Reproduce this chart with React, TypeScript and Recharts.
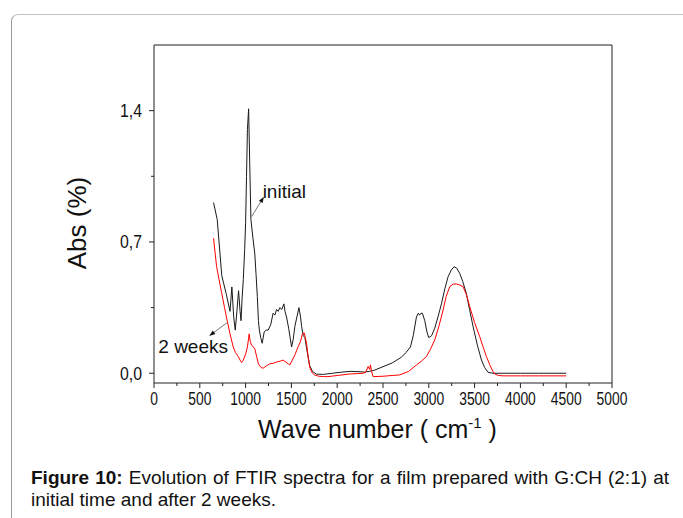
import React from 'react';
import { LineChart, Line, XAxis, YAxis, ReferenceLine, ReferenceDot } from 'recharts';

// ---- data ----
const waveInitial = [650, 690, 740, 790, 830, 850, 870, 887, 905, 923, 940, 950, 962, 975, 990, 1000, 1010, 1020, 1033, 1045, 1058, 1080, 1100, 1115, 1128, 1140, 1150, 1165, 1181, 1203, 1225, 1247, 1275, 1300, 1320, 1338, 1356, 1374, 1395, 1418, 1430, 1447, 1470, 1502, 1520, 1538, 1560, 1582, 1600, 1611, 1630, 1647, 1670, 1700, 1730, 1774, 1850, 1950, 2050, 2150, 2250, 2300, 2350, 2400, 2500, 2600, 2700, 2750, 2800, 2830, 2865, 2885, 2901, 2915, 2930, 2956, 2980, 2999, 3030, 3065, 3100, 3138, 3175, 3211, 3245, 3276, 3305, 3337, 3370, 3410, 3445, 3483, 3530, 3575, 3610, 3647, 3700, 3800, 4000, 4200, 4400, 4500];
const absInitial = [0.91, 0.82, 0.52, 0.42, 0.33, 0.46, 0.3, 0.23, 0.33, 0.44, 0.33, 0.28, 0.4, 0.5, 0.66, 0.8, 1.05, 1.3, 1.41, 1.12, 0.82, 0.72, 0.64, 0.52, 0.41, 0.28, 0.23, 0.19, 0.16, 0.22, 0.23, 0.23, 0.26, 0.32, 0.31, 0.34, 0.33, 0.35, 0.34, 0.37, 0.33, 0.3, 0.24, 0.14, 0.18, 0.25, 0.3, 0.35, 0.3, 0.25, 0.2, 0.19, 0.12, 0.04, 0.01, -0.005, -0.006, 0.0, 0.006, 0.01, 0.008, 0.006, 0.01, 0.015, 0.035, 0.055, 0.085, 0.11, 0.14, 0.2, 0.3, 0.32, 0.31, 0.32, 0.32, 0.28, 0.22, 0.19, 0.2, 0.24, 0.3, 0.37, 0.45, 0.515, 0.55, 0.568, 0.56, 0.533, 0.49, 0.426, 0.34, 0.25, 0.15, 0.07, 0.03, 0.005, 0.0, 0.0, 0.0, 0.0, 0.0, 0.0];

const waveWeeks = [650, 683, 710, 738, 770, 799, 830, 865, 890, 919, 940, 956, 975, 1003, 1020, 1039, 1050, 1065, 1085, 1101, 1120, 1140, 1149, 1170, 1192, 1230, 1260, 1301, 1340, 1380, 1410, 1440, 1465, 1483, 1510, 1540, 1574, 1600, 1620, 1640, 1652, 1665, 1685, 1701, 1730, 1756, 1800, 1850, 1900, 2000, 2137, 2220, 2283, 2310, 2338, 2355, 2363, 2375, 2392, 2500, 2600, 2683, 2780, 2865, 2920, 2974, 3020, 3065, 3110, 3156, 3190, 3229, 3265, 3301, 3340, 3374, 3410, 3447, 3500, 3556, 3600, 3629, 3670, 3700, 3720, 3760, 3811, 4000, 4200, 4500];
const absWeeks = [0.72, 0.57, 0.5, 0.43, 0.35, 0.28, 0.21, 0.14, 0.11, 0.09, 0.07, 0.057, 0.07, 0.107, 0.14, 0.21, 0.17, 0.15, 0.14, 0.13, 0.09, 0.05, 0.044, 0.03, 0.027, 0.04, 0.05, 0.053, 0.06, 0.065, 0.07, 0.06, 0.05, 0.044, 0.07, 0.1, 0.142, 0.17, 0.21, 0.215, 0.19, 0.16, 0.08, 0.03, 0.0, -0.01, -0.016, -0.018, -0.018, -0.012, -0.004, -0.002, 0.0, 0.005, 0.036, 0.02, 0.045, 0.01, -0.018, -0.016, -0.012, -0.009, 0.01, 0.044, 0.065, 0.089, 0.13, 0.178, 0.25, 0.337, 0.41, 0.462, 0.475, 0.476, 0.47, 0.462, 0.42, 0.355, 0.27, 0.195, 0.13, 0.089, 0.04, 0.01, -0.004, -0.012, -0.014, -0.014, -0.014, -0.014];

const xTicks = [0, 250, 500, 750, 1000, 1250, 1500, 1750, 2000, 2250, 2500, 2750, 3000, 3250, 3500, 3750, 4000, 4250, 4500, 4750, 5000];
const xLabelTicks = [0, 500, 1000, 1500, 2000, 2500, 3000, 3500, 4000, 4500, 5000];
const yTicks = [0, 0.35, 0.7, 1.05, 1.4];
const yLabelTicks = [0, 0.7, 1.4];

const seriesNames = ['initial', '2 weeks'];
const initialData = waveInitial.map((x, i) => ({ x, y: absInitial[i] }));
const weeksData = waveWeeks.map((x, i) => ({ x, y: absWeeks[i] }));

const FONT = '"Liberation Sans", Arial, Helvetica, sans-serif';
const AX = '#222';

const XTick = (props: any) => {
  const { x, y, payload } = props;
  const v = payload.value;
  const major = xLabelTicks.includes(v);
  const s = String(v);
  return (
    <g>
      <line x1={x} y1={y} x2={x} y2={y + (major ? 5 : 3)} stroke={AX} strokeWidth={1} />
      {major && (
        <text x={x} y={y + 21.5} textAnchor="middle" fontSize={17.5} fontFamily={FONT} fill="#111"
          textLength={s.length * 7.7} lengthAdjust="spacingAndGlyphs">{s}</text>
      )}
    </g>
  );
};

const YTick = (props: any) => {
  const { x, y, payload } = props;
  const v = payload.value;
  const major = yLabelTicks.includes(v);
  const s = v.toFixed(1).replace('.', ',');
  return (
    <g>
      <line x1={x} y1={y} x2={x - (major ? 5 : 3)} y2={y} stroke={AX} strokeWidth={1} />
      {major && (
        <text x={x - 12} y={y + 6.5} textAnchor="end" fontSize={17.5} fontFamily={FONT} fill="#111"
          textLength={22} lengthAdjust="spacingAndGlyphs">{s}</text>
      )}
    </g>
  );
};

const Arrow = (p: any) => {
  const { x1, y1, x2, y2 } = p;
  const dx = x2 - x1, dy = y2 - y1;
  const len = Math.sqrt(dx * dx + dy * dy) || 1;
  const ux = dx / len, uy = dy / len;
  const hl = 6, hw = 2.2;
  const bx = x2 - ux * hl, by = y2 - uy * hl;
  const pts = `${x2},${y2} ${bx - uy * hw},${by + ux * hw} ${bx + uy * hw},${by - ux * hw}`;
  return (
    <g>
      <line x1={x1} y1={y1} x2={bx} y2={by} stroke="#666" strokeWidth={0.9} />
      <polygon points={pts} fill="#111" />
    </g>
  );
};

const Note = (text: string) => (p: any) => (
  <text x={p.cx} y={p.cy} fontSize={19} fontFamily={FONT} fill="#111">{text}</text>
);

const XLabel = (props: any) => {
  const vb = props.viewBox || { x: 154, y: 383, width: 458 };
  const cx = vb.x + 223.5;
  const by = vb.y + 55;
  return (
    <text x={cx} y={by} textAnchor="middle" fontSize={25} fontFamily={FONT} fill="#111">
      Wave number ( cm
      <tspan fontSize={15} dy={-10}>-1</tspan>
      <tspan dy={10}> )</tspan>
    </text>
  );
};

const YLabel = (props: any) => {
  const vb = props.viewBox || { x: 0, y: 45, width: 154, height: 338 };
  const x = 86;
  const y = vb.y + 178;
  return (
    <text x={x} y={y} transform={`rotate(-90 ${x} ${y})`} textAnchor="middle" fontSize={26} fontFamily={FONT} fill="#111">
      Abs (%)
    </text>
  );
};

export default function App() {
  return (
    <div style={{ position: 'absolute', left: 0, top: 0, width: 683, height: 518, overflow: 'hidden', background: '#fff', fontFamily: FONT }}>
      <div style={{ position: 'absolute', left: 11, top: 14, width: 800, height: 700, borderLeft: '1.5px solid #9a9a9a', borderTop: '1.5px solid #c2c2c2', borderTopLeftRadius: 7 }} />
      <div style={{ position: 'absolute', left: 0, top: 0 }}>
        <LineChart width={683} height={460} margin={{ top: 45, right: 71, bottom: 27, left: 0 }}>
          <XAxis type="number" dataKey="x" domain={[0, 5000]} ticks={xTicks} interval={0} allowDataOverflow
            axisLine={{ stroke: AX, strokeWidth: 1 }} tickLine={false} tickSize={0} tickMargin={0} tick={<XTick />} height={50}
            label={{ content: <XLabel /> } as any} />
          <YAxis type="number" dataKey="y" domain={[-0.052, 1.75]} ticks={yTicks} interval={0} allowDataOverflow
            axisLine={{ stroke: AX, strokeWidth: 1 }} tickLine={false} tickSize={0} tickMargin={0} tick={<YTick />} width={154}
            label={{ content: <YLabel /> } as any} />
          <ReferenceLine y={1.75} stroke={AX} strokeWidth={1} />
          <ReferenceLine x={5000} stroke={AX} strokeWidth={1} />
          <Line data={initialData} dataKey="y" name={seriesNames[0]} type="linear" stroke="#1a1a1a" strokeWidth={1} dot={false} isAnimationActive={false} />
          <Line data={weeksData} dataKey="y" name={seriesNames[1]} type="linear" stroke="#ff0000" strokeWidth={1} dot={false} isAnimationActive={false} />
          <ReferenceLine segment={[{ x: 1065, y: 0.835 }, { x: 1200, y: 0.941 }]} shape={(p: any) => <Arrow {...p} />} />
          <ReferenceLine segment={[{ x: 799, y: 0.27 }, { x: 603, y: 0.199 }]} shape={(p: any) => <Arrow {...p} />} />
          <ReferenceDot x={1186} y={0.934} r={0} shape={Note(seriesNames[0])} />
          <ReferenceDot x={47} y={0.107} r={0} shape={Note(seriesNames[1])} />
        </LineChart>
      </div>
      <div style={{ position: 'absolute', left: 31, top: 467.4, width: 638, fontSize: 19, lineHeight: '22px', textAlign: 'justify', color: '#111' }}>
        <b>Figure 10:</b> Evolution of FTIR spectra for a film prepared with G:CH (2:1) at initial time and after 2 weeks.
      </div>
    </div>
  );
}
